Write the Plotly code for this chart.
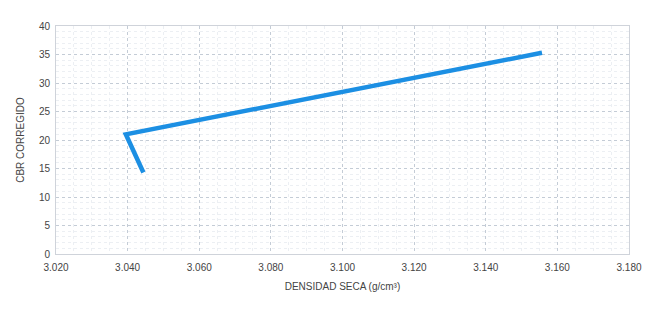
import plotly.graph_objects as go

densidad = [3.0444, 3.0395, 3.1557]
cbr = [14.3, 21.0, 35.3]

fig = go.Figure()
fig.add_trace(go.Scatter(x=densidad, y=cbr, mode="lines",
                         line=dict(color="#1c8fe3", width=4.5), showlegend=False))

font = dict(family="Liberation Sans, Arial", size=10, color="#444")
grid = dict(showgrid=True, gridcolor="#c4ccd6", griddash="dot", gridwidth=1,
            zeroline=False, showline=True, linecolor="#cfd3da", mirror=True,
            ticks="", tickfont=font)
fig.update_xaxes(range=[3.020, 3.180], dtick=0.02, tickformat=".3f",
                 ticklabelstandoff=4,
                 minor=dict(dtick=0.005, showgrid=True, gridcolor="#eceff3", griddash="dot"),
                 title=dict(text="DENSIDAD SECA (g/cm³)", font=font, standoff=10),
                 **grid)
fig.update_yaxes(range=[0, 40], dtick=5, ticklabelstandoff=3,
                 minor=dict(dtick=1, showgrid=True, gridcolor="#eceff3", griddash="dot"),
                 title=dict(text="CBR CORREGIDO", font=font, standoff=12),
                 **grid)
fig.update_layout(width=646, height=320, margin=dict(l=45, r=17, t=15, b=74),
                  plot_bgcolor="white", paper_bgcolor="white")
fig.write_html("out.html")
